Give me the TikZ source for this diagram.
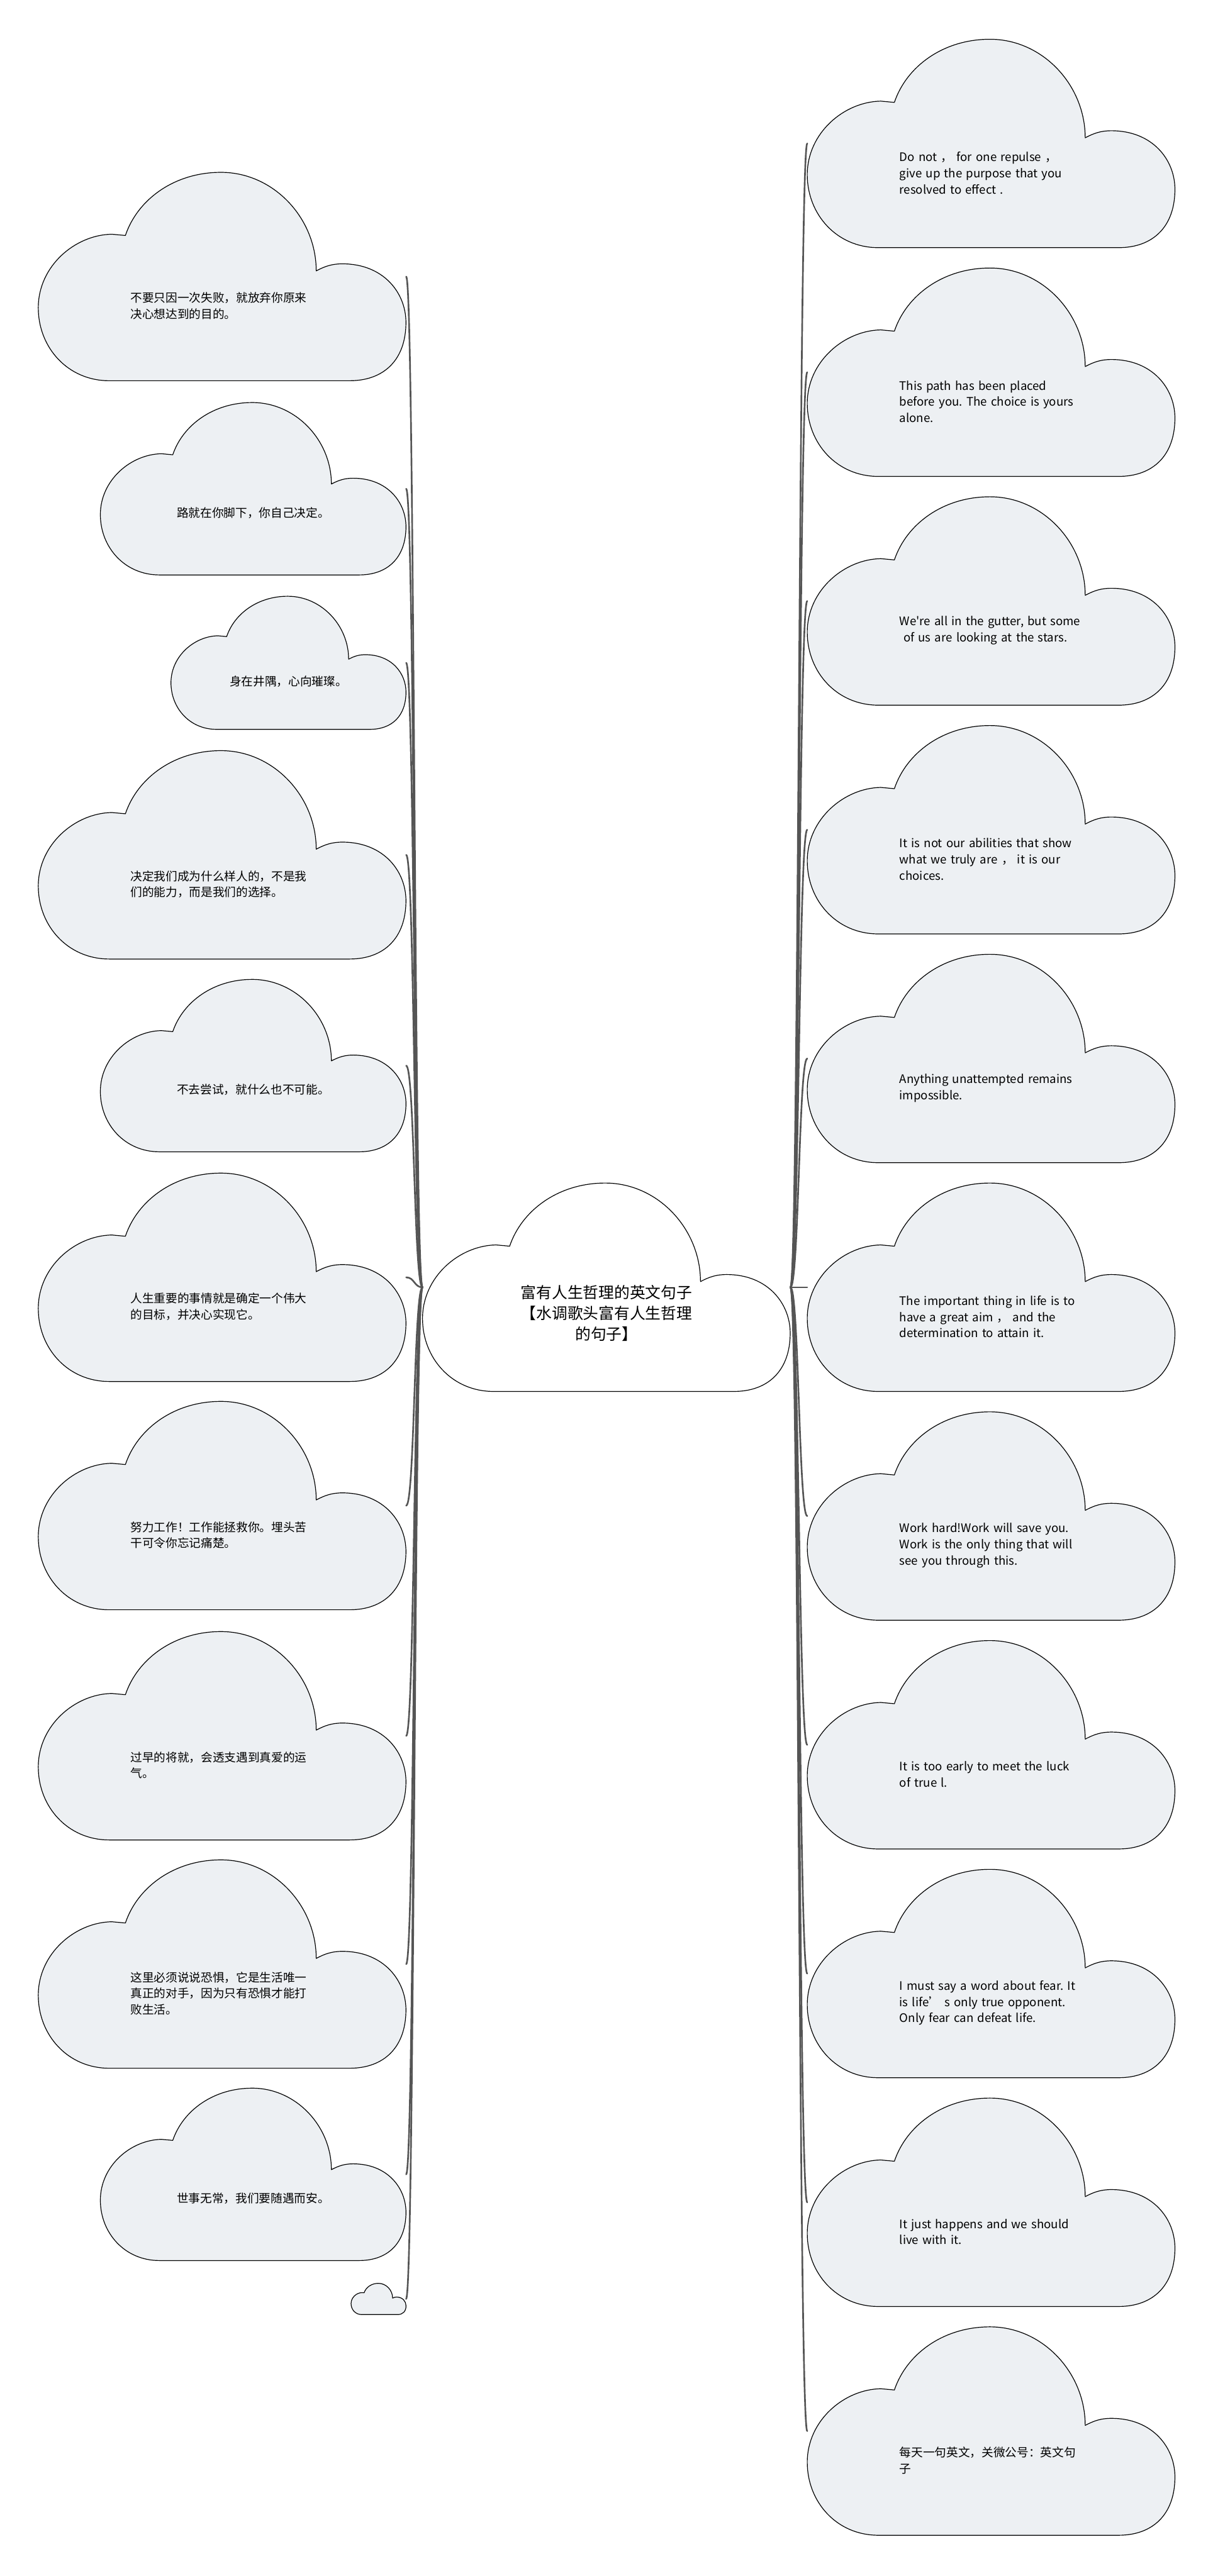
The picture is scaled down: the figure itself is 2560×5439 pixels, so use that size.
\documentclass[tikz,border=0pt]{standalone}
\usepackage{fontspec}
\setmainfont{Noto Sans CJK SC}
\frenchspacing

\definecolor{cloudfill}{HTML}{EDF0F3}
\definecolor{linkgrey}{HTML}{555555}

% cloud outline in unit box, v running down
\newcommand{\drawcloud}[4]{%
  \filldraw[cloudline, fill=#4, shift={(#1.north west)}, xscale=#2, yscale=#3]
  (0.193,1) .. controls (0.08,1) and (0,0.84) .. (0,0.65)
  .. controls (0,0.45) and (0.1,0.3) .. (0.2,0.297)
  -- (0.237,0.303)
  .. controls (0.27,0.13) and (0.37,0) .. (0.497,0)
  .. controls (0.64,0) and (0.756,0.22) .. (0.756,0.473)
  .. controls (0.78,0.45) and (0.8,0.439) .. (0.827,0.439)
  .. controls (0.94,0.439) and (1,0.58) .. (1,0.72)
  .. controls (1,0.9) and (0.94,1) .. (0.847,1)
  -- cycle;
}

\begin{document}
\begin{tikzpicture}[
      x=0.01cm, y=-0.01cm,
      line cap=round, line join=round,
      bigbox/.style={minimum width=7.76cm, minimum height=4.4cm,
        inner sep=0pt, outer sep=0pt},
      midbox/.style={minimum width=6.45cm, minimum height=3.64cm,
        inner sep=0pt, outer sep=0pt},
      smallbox/.style={minimum width=4.96cm, minimum height=2.81cm,
        inner sep=0pt, outer sep=0pt},
      tinybox/.style={minimum width=1.16cm, minimum height=0.66cm,
        inner sep=0pt, outer sep=0pt},
      cloudline/.style={draw=black, line width=0.45pt},
      branch/.style={draw=linkgrey, line width=1pt},
      quotetext/.style={font=\fontsize{7.05}{9.7}\selectfont,
        text width=4.2cm, align=left, inner sep=0pt, anchor=west},
      oneline/.style={font=\fontsize{7.05}{9.7}\selectfont, inner sep=0pt},
      maintitle/.style={font=\fontsize{9.35}{12.5}\selectfont,
        align=center, inner sep=0pt}
    ]

    \useasboundingbox (0,0) rectangle (2560,5439);

    % ------------------ Boxes ------------------
    \node[bigbox] (C) at (1280,2718) {};

    \node[bigbox]   (L1)  at (469,584) {};
    \node[midbox]   (L2)  at (534.5,1032) {};
    \node[smallbox] (L3)  at (609,1399.5) {};
    \node[bigbox]   (L4)  at (469,1805) {};
    \node[midbox]   (L5)  at (534.5,2250) {};
    \node[bigbox]   (L6)  at (469,2697) {};
    \node[bigbox]   (L7)  at (469,3179) {};
    \node[bigbox]   (L8)  at (469,3665) {};
    \node[bigbox]   (L9)  at (469,4147) {};
    \node[midbox]   (L10) at (534.5,4591) {};
    \node[tinybox]  (L11) at (799,4854) {};

    \node[bigbox] (R1)  at (2092,303) {};
    \node[bigbox] (R2)  at (2092,786) {};
    \node[bigbox] (R3)  at (2092,1269) {};
    \node[bigbox] (R4)  at (2092,1752) {};
    \node[bigbox] (R5)  at (2092,2235) {};
    \node[bigbox] (R6)  at (2092,2718) {};
    \node[bigbox] (R7)  at (2092,3201) {};
    \node[bigbox] (R8)  at (2092,3684) {};
    \node[bigbox] (R9)  at (2092,4167) {};
    \node[bigbox] (R10) at (2092,4650) {};
    \node[bigbox] (R11) at (2092,5133) {};

    % ------------------ Branches ------------------
    \draw[branch] (C.west) .. controls +(-18,0) and +(18,0) .. (L1.east);
    \draw[branch] (C.west) .. controls +(-18,0) and +(18,0) .. (L2.east);
    \draw[branch] (C.west) .. controls +(-18,0) and +(18,0) .. (L3.east);
    \draw[branch] (C.west) .. controls +(-18,0) and +(18,0) .. (L4.east);
    \draw[branch] (C.west) .. controls +(-18,0) and +(18,0) .. (L5.east);
    \draw[branch] (C.west) .. controls +(-18,0) and +(18,0) .. (L6.east);
    \draw[branch] (C.west) .. controls +(-18,0) and +(18,0) .. (L7.east);
    \draw[branch] (C.west) .. controls +(-18,0) and +(18,0) .. (L8.east);
    \draw[branch] (C.west) .. controls +(-18,0) and +(18,0) .. (L9.east);
    \draw[branch] (C.west) .. controls +(-18,0) and +(18,0) .. (L10.east);
    \draw[branch] (C.west) .. controls +(-18,0) and +(18,0) .. (L11.east);

    \draw[branch] (C.east) .. controls +(18,0) and +(-18,0) .. (R1.west);
    \draw[branch] (C.east) .. controls +(18,0) and +(-18,0) .. (R2.west);
    \draw[branch] (C.east) .. controls +(18,0) and +(-18,0) .. (R3.west);
    \draw[branch] (C.east) .. controls +(18,0) and +(-18,0) .. (R4.west);
    \draw[branch] (C.east) .. controls +(18,0) and +(-18,0) .. (R5.west);
    \draw[branch] (C.east) -- (R6.west);
    \draw[branch] (C.east) .. controls +(18,0) and +(-18,0) .. (R7.west);
    \draw[branch] (C.east) .. controls +(18,0) and +(-18,0) .. (R8.west);
    \draw[branch] (C.east) .. controls +(18,0) and +(-18,0) .. (R9.west);
    \draw[branch] (C.east) .. controls +(18,0) and +(-18,0) .. (R10.west);
    \draw[branch] (C.east) .. controls +(18,0) and +(-18,0) .. (R11.west);

    % ------------------ Centre ------------------
    \drawcloud{C}{776}{440}{white}
    \node[maintitle] (Ct) at ([yshift=-0.55cm]C.center)
    {富有人生哲理的英文句子\\【水调歌头富有人生哲理\\的句子】};

    % ------------------ Left clouds ------------------
    \drawcloud{L1}{776}{440}{cloudfill}
    \node[quotetext] (L1t) at ([xshift=1.94cm, yshift=-0.62cm]L1.west)
    {不要只因一次失败，就放弃你原来\\决心想达到的目的。};

    \drawcloud{L2}{645}{364}{cloudfill}
    \node[oneline] (L2t) at ([yshift=-0.51cm]L2.center)
    {路就在你脚下，你自己决定。};

    \drawcloud{L3}{496}{281}{cloudfill}
    \node[oneline] (L3t) at ([yshift=-0.39cm]L3.center)
    {身在井隅，心向璀璨。};

    \drawcloud{L4}{776}{440}{cloudfill}
    \node[quotetext] (L4t) at ([xshift=1.94cm, yshift=-0.62cm]L4.west)
    {决定我们成为什么样人的，不是我\\们的能力，而是我们的选择。};

    \drawcloud{L5}{645}{364}{cloudfill}
    \node[oneline] (L5t) at ([yshift=-0.51cm]L5.center)
    {不去尝试，就什么也不可能。};

    \drawcloud{L6}{776}{440}{cloudfill}
    \node[quotetext] (L6t) at ([xshift=1.94cm, yshift=-0.62cm]L6.west)
    {人生重要的事情就是确定一个伟大\\的目标，并决心实现它。};

    \drawcloud{L7}{776}{440}{cloudfill}
    \node[quotetext] (L7t) at ([xshift=1.94cm, yshift=-0.62cm]L7.west)
    {努力工作！工作能拯救你。埋头苦\\干可令你忘记痛楚。};

    \drawcloud{L8}{776}{440}{cloudfill}
    \node[quotetext] (L8t) at ([xshift=1.94cm, yshift=-0.62cm]L8.west)
    {过早的将就，会透支遇到真爱的运\\气。};

    \drawcloud{L9}{776}{440}{cloudfill}
    \node[quotetext] (L9t) at ([xshift=1.94cm, yshift=-0.62cm]L9.west)
    {这里必须说说恐惧，它是生活唯一\\真正的对手，因为只有恐惧才能打\\败生活。};

    \drawcloud{L10}{645}{364}{cloudfill}
    \node[oneline] (L10t) at ([yshift=-0.51cm]L10.center)
    {世事无常，我们要随遇而安。};

    \drawcloud{L11}{116}{66}{cloudfill}

    % ------------------ Right clouds ------------------
    \drawcloud{R1}{776}{440}{cloudfill}
    \node[quotetext] (R1t) at ([xshift=1.94cm, yshift=-0.62cm]R1.west)
    {Do not ，\ for one repulse ，\\give up the purpose that you\\resolved to effect .};

    \drawcloud{R2}{776}{440}{cloudfill}
    \node[quotetext] (R2t) at ([xshift=1.94cm, yshift=-0.62cm]R2.west)
    {This path has been placed\\before you. The choice is yours\\alone.};

    \drawcloud{R3}{776}{440}{cloudfill}
    \node[quotetext] (R3t) at ([xshift=1.94cm, yshift=-0.62cm]R3.west)
    {We\textquotesingle re all in the gutter, but some\\\ of us are looking at the stars.};

    \drawcloud{R4}{776}{440}{cloudfill}
    \node[quotetext] (R4t) at ([xshift=1.94cm, yshift=-0.62cm]R4.west)
    {It is not our abilities that show\\what we truly are ，\ it is our\\choices.};

    \drawcloud{R5}{776}{440}{cloudfill}
    \node[quotetext] (R5t) at ([xshift=1.94cm, yshift=-0.62cm]R5.west)
    {Anything unattempted remains\\impossible.};

    \drawcloud{R6}{776}{440}{cloudfill}
    \node[quotetext] (R6t) at ([xshift=1.94cm, yshift=-0.62cm]R6.west)
    {The important thing in life is to\\have a great aim ，\ and the\\determination to attain it.};

    \drawcloud{R7}{776}{440}{cloudfill}
    \node[quotetext] (R7t) at ([xshift=1.94cm, yshift=-0.62cm]R7.west)
    {Work hard!Work will save you.\\Work is the only thing that will\\see you through this.};

    \drawcloud{R8}{776}{440}{cloudfill}
    \node[quotetext] (R8t) at ([xshift=1.94cm, yshift=-0.62cm]R8.west)
    {It is too early to meet the luck\\of true l.};

    \drawcloud{R9}{776}{440}{cloudfill}
    \node[quotetext] (R9t) at ([xshift=1.94cm, yshift=-0.62cm]R9.west)
    {I must say a word about fear. It\\is life’ s only true opponent.\\Only fear can defeat life.};

    \drawcloud{R10}{776}{440}{cloudfill}
    \node[quotetext] (R10t) at ([xshift=1.94cm, yshift=-0.62cm]R10.west)
    {It just happens and we should\\live with it.};

    \drawcloud{R11}{776}{440}{cloudfill}
    \node[quotetext] (R11t) at ([xshift=1.94cm, yshift=-0.62cm]R11.west)
    {每天一句英文，关微公号：英文句\\子};

  \end{tikzpicture}
\end{document}
